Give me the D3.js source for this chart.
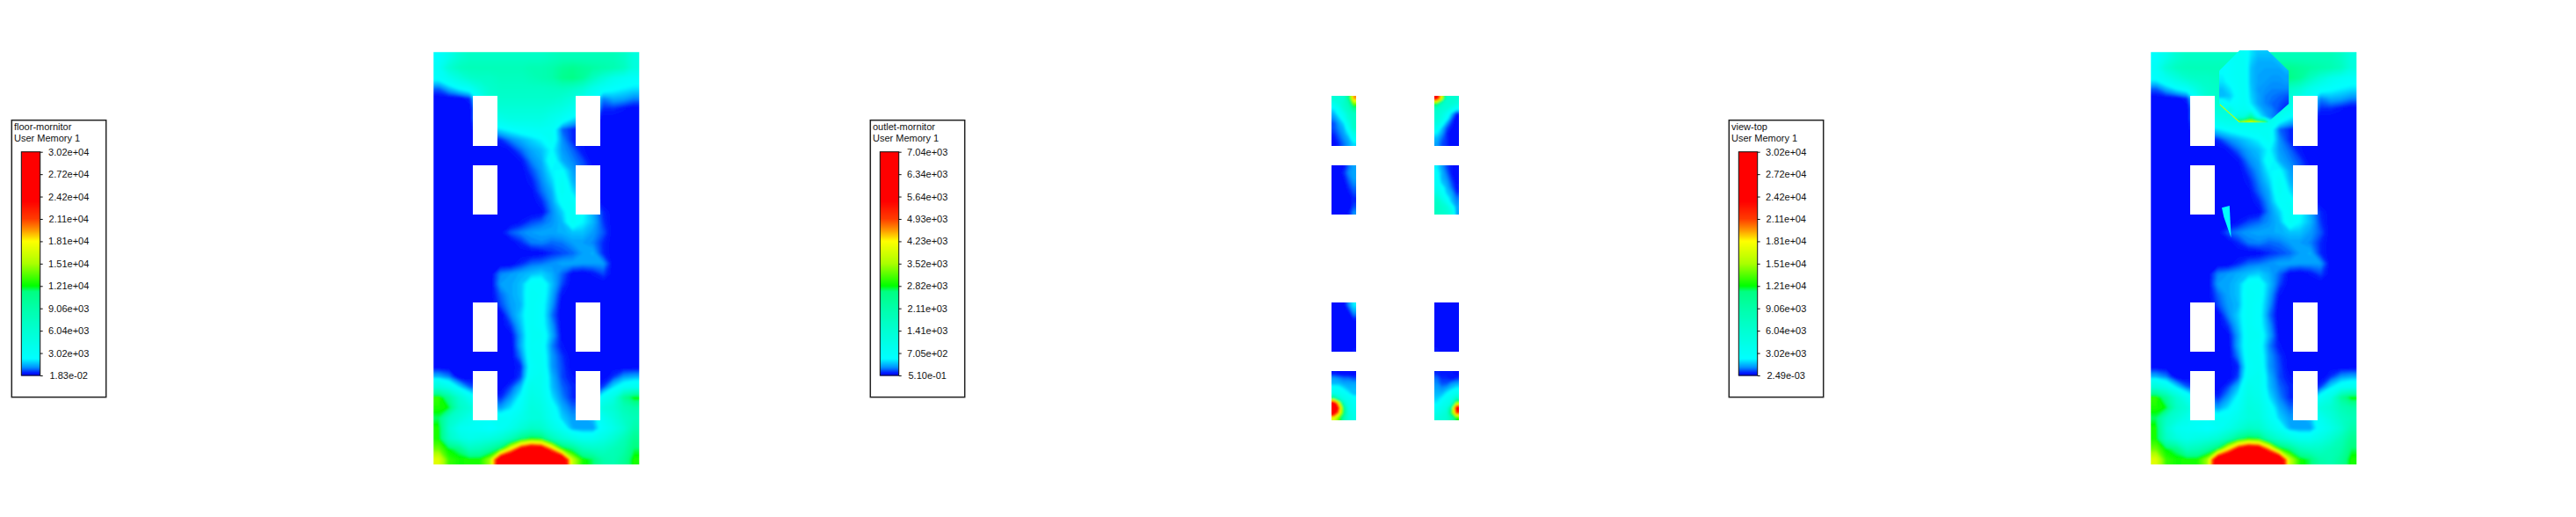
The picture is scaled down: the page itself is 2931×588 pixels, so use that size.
<!DOCTYPE html>
<html><head><meta charset="utf-8">
<script src="https://cdnjs.cloudflare.com/ajax/libs/d3/7.8.5/d3.min.js"></script>
<style>html,body{margin:0;background:#fff}svg{display:block}text{font-family:"Liberation Sans",Arial,sans-serif;fill:#111}</style>
</head><body><svg id="c" width="2931" height="588"></svg>
<script>
// ---------- DATA (values in thousands of "User Memory 1") ----------
const legendTitles = ["floor-mornitor", "outlet-mornitor", "view-top"];
const legendSubtitle = "User Memory 1";
const floorTicks = ["1.83e-02","3.02e+03","6.04e+03","9.06e+03","1.21e+04","1.51e+04","1.81e+04","2.11e+04","2.42e+04","2.72e+04","3.02e+04"];
const outletTicks = ["5.10e-01","7.05e+02","1.41e+03","2.11e+03","2.82e+03","3.52e+03","4.23e+03","4.93e+03","5.64e+03","6.34e+03","7.04e+03"];
const topTicks = ["2.49e-03","3.02e+03","6.04e+03","9.06e+03","1.21e+04","1.51e+04","1.81e+04","2.11e+04","2.42e+04","2.72e+04","3.02e+04"];
const floorMax = 30.2, outletMax = 7.04;
const colorStops = [0,0.012,0.035,0.075,0.2,0.3,0.375,0.4,0.5,0.6,0.65,0.7,0.78,1];
const colorValues = ["#0000ff","#0020ff","#0090ff","#00ffff","#00ffd2","#00ffaa","#00ff82","#00ff00","#aaff00","#ffff00","#ff9600","#ff3c00","#ff0000","#ff0000"];

const floorField = [
[2.5,4,6,7,7,7,7,7,7,7,7,7.5,8,8,8,8,8,8,7,5],
[3,6,7.5,8,8,8,8,8,8,8.5,8.5,9,10,10.5,10,9.5,9,8.5,7.5,5],
[2.6,3.6,5,6.5,7,7,7.5,7.5,7.5,8,8.5,9,10.5,11,10,7.5,5.5,4,3.2,2.8],
[0.8,1.6,2.4,3,5,6.5,7,7,7,7,7,7.2,7.5,7,6,4,3,2.5,2.2,2],
[0,0,0,0.4,3,6,6.5,6.5,6.5,6.5,6.5,6.5,6,5,4,3,1,1.4,1.3,1],
[0,0,0,0,2,5,5.5,5.5,5.5,5.5,5.5,5,4.5,3.5,3,2,0.4,0.4,0.2,0],
[0,0,0,0,2,3.5,4,4.5,4.5,4.5,4.5,3.8,3,2,1.5,1,0,0,0,0],
[0,0,0,0,1,1.5,2,2.4,2.8,3,3.2,3,0.8,0.4,0.2,0,0,0,0,0],
[0,0,0,0,0,0.2,0.4,1,1.4,1.8,2.2,3,1.1,0.4,0.2,0,0,0,0,0],
[0,0,0,0,0,0,0,0.2,0.8,1.3,1.6,2.3,1.2,0.8,0.2,0,0,0,0,0],
[0,0,0,0,0,0,0,0,0.2,1,1.4,2.8,1.4,1,0.6,0,0,0,0,0],
[0,0,0,0,0,0,0,0,0,0.6,1.2,2.2,2.4,1.3,0.8,0.3,0,0,0,0],
[0,0,0,0,0,0,0,0,0,0.3,1,1.8,3,1.5,1,0.4,0,0,0,0],
[0,0,0,0,0,0,0,0,0,0.1,0.8,1.4,3.1,2,1.2,0.5,0,0,0,0],
[0,0,0,0,0,0,0,0,0,0,0.4,1.2,2.6,2.8,1.6,0.8,0,0,0,0],
[0,0,0,0,0,0,0,0,0,0,0.1,1,1.8,3,2.4,1.4,0.4,0,0,0],
[0,0,0,0,0,0,0,0,0.2,0.6,0.8,1.1,1.5,3,2.2,1.5,0.5,0,0,0],
[0,0,0,0,0,0,0.1,0.7,1,1.2,1.3,1.3,1.4,1.6,1.6,1.2,0.7,0,0,0],
[0,0,0,0,0,0,0,0,0.4,0.9,1,0.8,0.9,1.2,1.2,1,0.4,0,0,0],
[0,0,0,0,0,0,0,0,0,0,0.1,0.4,0.6,0.8,1.2,1.4,0.4,0,0,0],
[0,0,0,0,0,0,0,0,0.4,0.8,0.9,1.1,1.3,1.3,1.2,1.2,1.2,0,0,0],
[0,0,0,0,0,0,1,1.2,1.4,1.6,1.8,1.4,0.8,0.1,0,0.2,0.6,0,0,0],
[0,0,0,0,0,0,1.2,1.3,1.6,2.8,2.8,1.6,0.6,0,0,0,0,0,0,0],
[0,0,0,0,0,0,0.8,1.3,1.6,3,2.8,1.4,0.2,0,0,0,0,0,0,0],
[0,0,0,0,0,0,0.6,1.2,1.5,3,2.6,1.2,0,0,0,0,0,0,0,0],
[0,0,0,0,0,0,0,1,1.8,3,2.6,0.9,0,0,0,0,0,0,0,0],
[0,0,0,0,0,0,0,0.5,1.6,3,2.6,1.2,0,0,0,0,0,0,0,0],
[0,0,0,0,0,0,0,0.1,1.3,3,3,1.4,0.1,0,0,0,0,0,0,0],
[0,0,0,0,0,0,0,0,1.4,3,2.8,1,0.2,0,0,0,0,0,0,0],
[0,0,0,0,0,0,0,0,1,3,3,1.2,0.5,0,0,0,0,0,0,0],
[0,0,0,0,0,0,0,0,0.4,2.8,3.2,1.2,0.6,0,0,0,0,0,0,0],
[1.5,1,0,0,0,0,0,0,0.6,3.2,3.5,1.5,0.6,0.2,0,0,0,0.5,1.2,1.4],
[5.5,3.8,2,0.8,0.5,0.2,0,0.6,1.6,4,3.5,1.6,0.8,0.4,0.3,0.3,0.6,2,3,3.5],
[13,10,6,3.4,2,1,0.4,1.2,2.4,4.5,4,2,1,0.4,0.3,1,3,4.5,10,12.5],
[12.5,12,7,5.5,3,2,1.2,2,3,5,4.5,2.8,1.4,0.8,1,2.5,5,6,8,9],
[11.5,7,5.5,4,3,3,3,3,4,5,5,3.2,1.8,1.2,1.2,1.6,3.4,5,7,8],
[12.5,6,3.5,3.1,2.8,2.2,3,4,5.5,7,6.5,4.5,3,1.4,1.2,1.2,2.8,4,6,9],
[12.5,7,5,4,4.5,5,6,8,11,12.5,12,8,6,4.5,3.5,3.5,4.5,6,8,10.5],
[14,12,11,7.5,8,9.5,12,18,24,27,26,20,13,11,8,7,7,8,9,11.5],
[17,13,12.4,12.5,12.5,15,27,30,30,30,30,30,28,16,12.5,11.5,9,8.5,10,12.5]
];

const outletTopLeft = [[1.3,1.3,1.4,2.4,4.6],[0.9,1.2,1.5,1.9,3.4],[0.5,0.8,1.4,1.7,2.4],[0.35,0.6,0.9,1.5,1.7],[0.25,0.4,0.7,1.3,1.6],[0.15,0.3,0.45,1,1.6],[0.15,0.25,0.35,0.7,1.5],[0.1,0.2,0.3,0.5,1],[0.05,0.15,0.25,0.35,0.7],[0,0.1,0.2,0.3,0.45]];
const outletTopRight = [[5.6,4,1.5,1.4,1.4],[3,1.7,1.4,1.4,1.2],[1.6,1.4,1.3,0.9,0.6],[1.4,1.2,0.8,0.4,0.1],[1.3,1,0.6,0.2,0],[1.1,0.7,0.3,0.1,0],[0.8,0.4,0.15,0.05,0],[0.5,0.3,0.1,0,0],[0.35,0.2,0.1,0,0],[0.3,0.15,0.1,0,0]];
const outletMidLeft = [[0,0,0.05,0.2,0.3],[0,0,0.1,0.25,0.3],[0,0,0.05,0.2,0.3],[0,0,0.03,0.15,0.25],[0,0,0,0.1,0.2],[0,0,0,0.05,0.15],[0,0,0,0,0.1],[0,0,0,0,0.1],[0,0,0,0,0.15],[0,0,0,0.05,0.25]];
const outletMidRight = [[0.5,0.3,0.15,0.05,0],[0.6,0.35,0.2,0.05,0],[0.65,0.35,0.25,0.1,0],[0.7,0.4,0.3,0.15,0.03],[0.8,0.6,0.35,0.2,0.05],[1,0.7,0.4,0.3,0.1],[1.4,0.9,0.55,0.35,0.2],[1.6,1.3,0.8,0.4,0.25],[1.7,1.5,1.3,0.7,0.3],[1.7,1.5,1.4,1,0.3]];
const outletLowLeft = [[0,0,0,0.25,0.5],[0,0,0,0.1,0.35],[0,0,0,0,0.2],[0,0,0,0,0.05],[0,0,0,0,0],[0,0,0,0,0],[0,0,0,0,0],[0,0,0,0,0],[0,0,0,0,0],[0,0,0,0,0.05]];
const outletLowRight = [[0,0,0,0,0],[0,0,0,0,0],[0,0,0,0,0],[0,0,0,0,0],[0,0,0,0,0],[0,0,0,0,0],[0,0,0,0,0],[0,0,0,0,0],[0,0,0,0,0],[0.06,0,0,0,0]];
const outletBotLeft = [[0.05,0.03,0,0,0],[0.3,0.25,0.2,0.2,0.15],[0.35,0.35,0.3,0.3,0.3],[0.65,0.6,0.45,0.35,0.35],[0.9,0.8,0.7,0.5,0.35],[2.5,1.4,0.9,0.8,0.6],[6,4,1.6,0.9,0.7],[6.5,5,2.5,1,0.8],[6,4.5,2.6,1.1,0.9],[4,3.2,2,1.2,1]];
const outletBotRight = [[0.1,0.05,0.05,0.05,0],[0.2,0.1,0.1,0.05,0.1],[0.25,0.15,0.15,0.25,0.3],[0.3,0.25,0.3,0.4,0.5],[0.35,0.35,0.5,0.7,0.8],[0.4,0.5,0.7,0.9,1.6],[0.5,0.7,0.9,1.2,3.5],[0.7,0.9,1.1,2.5,5.8],[0.9,1.1,1.3,2.9,5],[1.2,1.3,1.4,2,2.9]];

const fanField = [
[3,3,3,2.8,2,1.6,1.6,1.6,1.6,3],
[2.2,2.6,3,3,1.8,1.4,1.4,1.4,1.6,1.8],
[2.2,2.6,2.9,3,1.6,1.3,1.3,1.3,1.3,1.6],
[2.2,2.6,2.9,3,1.6,1.3,1.2,1.2,1.2,1.3],
[2,2.4,2.8,3,1.6,1.3,1.2,1.1,1.1,1.2],
[1.6,2,2.6,3,1.7,1.2,1.1,1,1,1],
[1.5,1.7,2.4,3,1.8,1.3,1,0.9,0.8,0.7],
[3,2.2,2.6,3,2,1.3,1,0.8,0.7,0.5],
[3,5,3,3.4,2.8,1.8,1.2,1,0.6,0.3],
[3,3,5,5,10,2.6,1.6,1,0.8,0.5],
[3,3,16,19,19,19,16,3,3,3]
];
const fanOutline = [[2.9,0],[6.9,0],[9.9,2.9],[9.9,7.6],[6.9,10.25],[2.9,10.25],[0,7.6],[0,2.9]];
const fanHotEdge = [[0.1,7.7],[2.9,10.2]];
const sliverOutline = [[6.9,15.1],[7.65,14.9],[7.8,18],[7.45,17],[7.1,16]];
const sliverValue = 2.4;

// ---------- LAYOUT ----------
const svg = d3.select("#c");
const rowsFloor = floorField.length, colsFloor = floorField[0].length;
const plotBox = {x0:493.3, x1:727.3, y0:59.3, y1:528.3};
const windowXs = [[538,566],[655,683]];
const windowYs = [[109,166],[188,244],[344,400],[422,478]];
const panelShift = [0, 977, 1954];

const colorOf = d3.scaleLinear().domain(colorStops).range(colorValues).interpolate(d3.interpolateRgb);
const defs = svg.append("defs");
defs.append("filter").attr("id","soft").attr("x","-5%").attr("y","-5%").attr("width","110%").attr("height","110%")
  .append("feGaussianBlur").attr("stdDeviation",1.2);

function drawField(parent, rows, maxV, xr, yr, step){
  const nx = rows[0].length, ny = rows.length;
  // repeat the edge rows and columns one cell outward, so contours run straight off the frame
  const padded = [rows[0], ...rows, rows[ny-1]].map(r=>[r[0], ...r, r[nx-1]]);
  const flat = padded.flat();
  const xS = d3.scaleLinear([1,nx+1], xr), yS = d3.scaleLinear([1,ny+1], yr);
  const path = d3.geoPath(d3.geoTransform({point(x,y){this.stream.point(xS(x),yS(y));}}));
  const th = d3.range(0, maxV, step);
  const conts = d3.contours().size([nx+2,ny+2]).thresholds(th)(flat.map(v=>v+1e-4));
  parent.selectAll(null).data(conts).join("path")
    .attr("d", path)
    .attr("fill", d=>colorOf(Math.min(1,(d.value+step/2)/maxV)));
}
let clipId = 0;
function clipRect(x0,x1,y0,y1){
  const id = "clip"+(clipId++);
  defs.append("clipPath").attr("id",id).append("rect").attr("x",x0).attr("y",y0).attr("width",x1-x0).attr("height",y1-y0);
  return "url(#"+id+")";
}

function floorPanel(shift){
  const g = svg.append("g");
  const inner = g.append("g").attr("clip-path", clipRect(plotBox.x0+shift,plotBox.x1+shift,plotBox.y0,plotBox.y1))
                 .append("g").attr("filter","url(#soft)");
  drawField(inner, floorField, floorMax, [plotBox.x0+shift,plotBox.x1+shift], [plotBox.y0,plotBox.y1], 0.15);
  windowYs.forEach(wy=>windowXs.forEach(wx=>{
    g.append("rect").attr("x",wx[0]+shift).attr("y",wy[0]).attr("width",wx[1]-wx[0]).attr("height",wy[1]-wy[0]).attr("fill","#fff");
  }));
  return g;
}
floorPanel(panelShift[0]);
const topPanel = floorPanel(panelShift[2]);

const outletGrid = [[outletTopLeft,outletTopRight],[outletMidLeft,outletMidRight],[outletLowLeft,outletLowRight],[outletBotLeft,outletBotRight]];
outletGrid.forEach((pair,r)=>pair.forEach((rows,c)=>{
  const xr=[windowXs[c][0]+panelShift[1],windowXs[c][1]+panelShift[1]], yr=windowYs[r];
  const inner = svg.append("g").attr("clip-path",clipRect(xr[0],xr[1],yr[0],yr[1])).append("g").attr("filter","url(#soft)");
  drawField(inner, rows, outletMax, xr, yr, 0.035);
}));

const fanXr=[2525,2605], fanYr=[57.3,145.3];
const fx=d3.scaleLinear([0,10],fanXr), fy=d3.scaleLinear([0,11],fanYr);
const fanLine=d3.line().x(d=>fx(d[0])).y(d=>fy(d[1]));
defs.append("clipPath").attr("id","fanClip").append("path").attr("d",fanLine(fanOutline)+"Z");
const fanG=svg.append("g").attr("clip-path","url(#fanClip)").append("g").attr("filter","url(#soft)");
drawField(fanG, fanField, floorMax, fanXr, fanYr, 0.1);
svg.append("path").attr("d",fanLine(fanHotEdge)).attr("stroke","#c8ff00").attr("stroke-width",1.1).attr("fill","none");

const sx=d3.scaleLinear([0,colsFloor],[plotBox.x0+panelShift[2],plotBox.x1+panelShift[2]]);
const sy=d3.scaleLinear([0,rowsFloor],[plotBox.y0,plotBox.y1]);
svg.append("path").attr("d",d3.line().x(d=>sx(d[0])).y(d=>sy(d[1]))(sliverOutline)+"Z")
  .attr("fill",colorOf(sliverValue/floorMax));

// ---------- LEGENDS ----------
const legendBox={x0:13.3,x1:120.7,y0:136.7,y1:451.7};
const barBox={x0:24.3,x1:45.7,y0:172.7,y1:427};
function legend(shift,title,ticks){
  const g=svg.append("g").attr("transform",`translate(${shift},0)`);
  g.append("rect").attr("x",legendBox.x0).attr("y",legendBox.y0).attr("width",legendBox.x1-legendBox.x0)
    .attr("height",legendBox.y1-legendBox.y0).attr("fill","#fff").attr("stroke","#222").attr("stroke-width",1.5);
  g.append("text").attr("x",16).attr("y",148).attr("font-size",11).text(title);
  g.append("text").attr("x",16).attr("y",161).attr("font-size",11).text(legendSubtitle);
  const tY=d3.scaleLinear([0,ticks.length-1],[barBox.y1,barBox.y0]);
  const steps=d3.range(0,1,1/254);
  const bY=d3.scaleLinear([0,1],[barBox.y1,barBox.y0]);
  g.selectAll(null).data(steps).join("rect").attr("x",barBox.x0).attr("width",barBox.x1-barBox.x0)
    .attr("y",d=>bY(d+1/254)).attr("height",1.4).attr("fill",d=>colorOf(d));
  g.append("rect").attr("x",barBox.x0).attr("y",barBox.y0).attr("width",barBox.x1-barBox.x0).attr("height",barBox.y1-barBox.y0)
    .attr("fill","none").attr("stroke","#111").attr("stroke-width",1);
  const ax=d3.axisRight(tY).tickValues(d3.range(ticks.length)).tickFormat(i=>ticks[i]).tickSize(3).tickPadding(6);
  const a=g.append("g").attr("transform",`translate(${barBox.x1},0)`).call(ax);
  a.select(".domain").remove();
  a.selectAll("line").attr("stroke","#111");
  a.selectAll("text").attr("font-size",11).attr("font-family","Liberation Sans").attr("fill","#111")
    .attr("text-anchor","middle").attr("x",32.5);
}
legend(panelShift[0],legendTitles[0],floorTicks);
legend(panelShift[1],legendTitles[1],outletTicks);
legend(panelShift[2],legendTitles[2],topTicks);
</script></body></html>
